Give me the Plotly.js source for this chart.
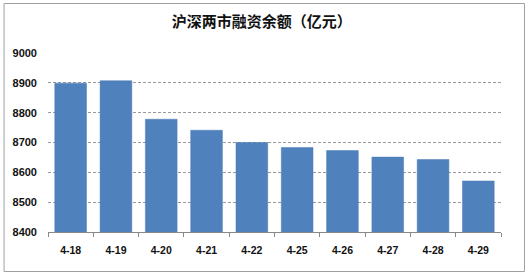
<!DOCTYPE html>
<html><head><meta charset="utf-8">
<script src="https://cdn.plot.ly/plotly-3.0.1.min.js"></script>
<style>html,body{margin:0;padding:0;background:#fff}#c{width:529px;height:275px}</style>
</head><body><div id="c"></div>
<script>
const categories = ["4-18","4-19","4-20","4-21","4-22","4-25","4-26","4-27","4-28","4-29"];
const balance = [8899, 8907, 8778, 8741, 8700, 8683, 8673, 8651, 8643, 8571];
const yTicks = [8400, 8500, 8600, 8700, 8800, 8900, 9000];
const chartTitle = "沪深两市融资余额（亿元）";

const L = 47.5, R = 28, T = 53, B = 43, W = 529, H = 275;
const pw = W - L - R, ph = H - T - B;
const px = x => (x - L) / pw, py = y => (H - B - y) / ph;

Plotly.newPlot('c', [{
  type: 'bar', x: categories, y: balance,
  marker: {color: '#4F81BD', line: {color: '#4a7bb7', width: 0.5}},
  hoverinfo: 'skip'
}], {
  width: W, height: H,
  margin: {l: L, r: R, t: T, b: B, pad: 0},
  paper_bgcolor: '#fff', plot_bgcolor: '#fff',
  bargap: 0.3,
  showlegend: false,
  title: {text: chartTitle, x: 0.495, xanchor: 'center', y: 1 - 22/H, yanchor: 'middle',
          font: {family: 'Noto Sans CJK SC', size: 15, color: '#111', weight: 'bold'}},
  xaxis: {type: 'category', showgrid: false, showline: true, linecolor: '#888', linewidth: 1,
          ticks: 'outside', ticklen: 4, tickcolor: '#888', tickson: 'boundaries',
          tickfont: {family: 'Liberation Sans', size: 10.5, color: '#111', weight: 'bold'},
          ticklabelstandoff: 8, zeroline: false, fixedrange: true},
  yaxis: {range: [8400, 9000], tickvals: yTicks, ticktext: yTicks.map(String),
          showgrid: true, gridcolor: '#9a9a9a', griddash: '3px,2px', gridwidth: 1,
          showline: false, zeroline: false, ticks: '',
          tickfont: {family: 'Liberation Sans', size: 11, color: '#111', weight: 'bold'},
          ticklabelstandoff: 10, fixedrange: true},
  shapes: [{type: 'rect', xref: 'paper', yref: 'paper',
            x0: px(3.5), x1: px(524.5), y0: py(271.5), y1: py(3.5),
            line: {color: '#a0a0a0', width: 1}, fillcolor: 'rgba(0,0,0,0)', layer: 'above'}]
}, {staticPlot: true, displayModeBar: false});
</script></body></html>
